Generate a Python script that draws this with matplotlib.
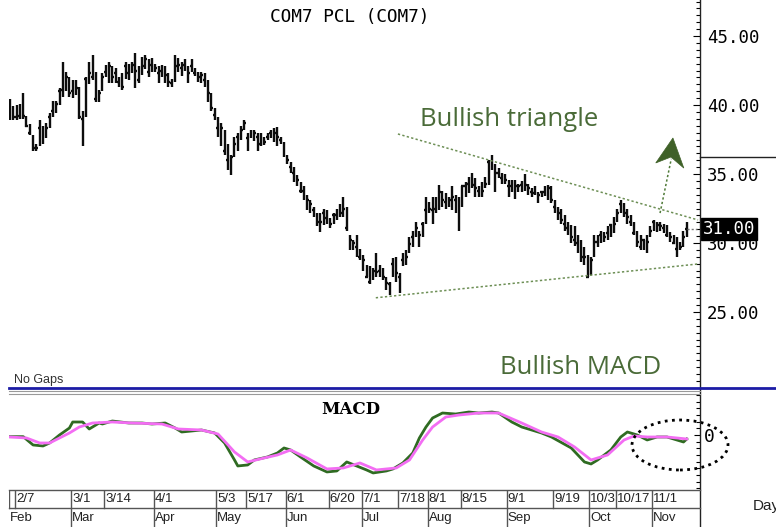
import matplotlib
matplotlib.use("Agg")
import matplotlib.pyplot as plt
from matplotlib.lines import Line2D
from matplotlib.patches import Ellipse, Polygon
from matplotlib.ticker import MultipleLocator, FixedLocator, FormatStrFormatter

W, H = 776, 527

# daily bars (high / low / close), one per trading day
highs = [40.4, 39.9, 40.0, 40.1, 40.9, 39.2, 38.6, 37.8, 37.2, 38.9, 38.5, 38.7, 39.4, 40.3, 40.3, 41.2, 43.1, 42.4,
         42.0, 41.8, 41.8, 41.3, 39.6, 42.0, 43.1, 43.6, 42.4, 41.1, 42.3, 42.9, 43.1,
         42.8, 42.7, 42.0, 42.3, 43.1, 43.0, 43.1, 43.8, 42.8, 43.5, 43.6, 43.3, 43.4, 43.0, 42.8, 42.9, 42.8,
         42.3, 41.9, 43.6, 43.4, 43.1, 43.3, 42.8, 43.3, 42.7, 42.4, 42.4, 42.3, 41.8, 40.9, 39.8, 39.1, 38.7,
         38.2, 37.2, 36.4, 37.7, 38.0, 38.5, 38.9, 38.0, 38.2, 38.2, 38.0, 38.0, 37.7, 38.0, 38.2, 38.3, 38.4,
         37.7, 37.3, 36.4, 35.9, 35.5, 34.9, 34.4, 34.1, 33.5, 33.1, 32.6, 32.2, 32.2, 32.5, 32.4, 31.8, 32.2, 32.5,
         32.8, 33.3, 32.6, 30.6, 30.2, 30.6, 29.6, 29.1, 28.4, 28.3, 28.2, 29.3, 28.4, 28.2, 27.5, 27.2, 28.9,
         29.0, 27.8, 29.3, 29.5, 30.4, 30.9, 31.5, 30.9, 31.5, 33.3, 33.0, 33.3, 33.3, 34.2, 33.8, 33.6, 33.3, 34.1,
         33.5, 33.3, 34.1, 34.4, 34.8, 35.1, 34.7, 34.1, 34.4, 34.8, 36.0, 36.4, 35.7, 35.4, 35.1, 35.0, 34.6,
         34.6, 34.6, 34.3, 34.5, 35.0, 34.3, 34.0, 34.1, 33.7, 33.8, 34.1, 34.2, 34.1, 33.1, 32.6, 32.5, 32.0,
         31.5, 31.3, 31.2, 30.6, 30.2, 29.7, 29.1, 29.0, 30.6, 30.6, 30.9, 30.8, 31.2, 31.4, 31.9, 32.5, 33.1,
         32.9, 32.5, 32.0, 31.5, 30.9, 30.6, 30.2, 30.6, 31.2, 31.7, 31.5, 31.5, 31.4, 31.3, 30.8, 30.6, 30.4,
         30.1, 30.9, 31.5]
lows = [38.9, 38.9, 38.9, 39.0, 39.0, 38.4, 37.8, 36.7, 36.7, 37.0, 37.2, 37.6, 38.3, 39.1, 39.4, 40.0, 40.6, 41.0,
        40.6, 40.5, 40.7, 39.0, 37.0, 39.1, 41.5, 41.8, 40.2, 40.2, 41.0, 42.0, 41.6,
        41.6, 41.6, 41.3, 41.1, 41.9, 41.8, 42.3, 41.2, 41.6, 42.2, 42.6, 42.0, 42.4, 42.4, 41.6, 42.0, 41.6,
        41.3, 41.3, 41.7, 42.4, 42.1, 42.5, 41.6, 42.4, 42.1, 41.7, 41.6, 41.3, 40.2, 39.6, 38.9, 37.7, 37.0,
        36.4, 35.3, 34.9, 36.2, 36.7, 37.5, 38.2, 36.7, 37.6, 37.4, 36.7, 37.0, 37.1, 37.5, 37.6, 37.3, 37.0,
        37.2, 36.2, 35.7, 35.1, 34.4, 34.1, 33.6, 33.1, 32.4, 32.2, 31.9, 31.2, 30.8, 31.3, 31.4, 31.1, 31.4, 31.7,
        31.9, 31.9, 30.9, 29.5, 29.5, 29.0, 28.8, 28.0, 27.5, 27.0, 27.3, 27.5, 27.5, 27.3, 26.6, 26.2, 27.5,
        27.2, 26.4, 28.3, 28.4, 29.3, 29.7, 30.4, 29.7, 30.4, 31.4, 32.2, 31.4, 32.2, 32.4, 32.6, 32.5, 32.6, 32.4,
        32.2, 30.9, 32.6, 33.3, 33.6, 34.0, 33.3, 33.3, 33.3, 34.0, 34.2, 35.3, 33.7, 34.7, 34.3, 34.3, 33.3,
        33.7, 33.2, 33.7, 33.7, 33.8, 33.5, 33.3, 33.5, 32.9, 33.3, 33.4, 33.1, 32.9, 32.2, 31.7, 31.4, 30.9,
        30.6, 30.0, 29.8, 29.3, 28.6, 28.4, 27.5, 27.7, 29.0, 29.7, 30.0, 30.1, 30.2, 30.4, 30.7, 31.5, 32.2,
        31.9, 31.4, 31.2, 30.6, 29.7, 29.5, 29.5, 29.3, 30.4, 30.9, 30.8, 30.9, 30.7, 30.4, 30.1, 29.9, 29.0,
        29.5, 29.7, 30.4]
closes = [39.1, 39.1, 39.1, 39.2, 39.2, 38.5, 38.0, 36.9, 36.9, 38.3, 37.5, 38.3, 39.1, 39.6, 40.1, 41.0, 41.1, 42.0,
          40.9, 41.0, 41.2, 39.1, 39.0, 41.9, 42.3, 42.0, 40.4, 40.9, 42.0, 42.4, 42.8,
          42.0, 42.3, 41.7, 41.3, 42.8, 42.3, 42.9, 42.5, 41.8, 42.8, 43.3, 42.4, 42.9, 42.7, 42.3, 42.5, 42.2,
          41.7, 41.6, 42.8, 42.9, 42.7, 42.9, 42.3, 42.8, 42.3, 42.0, 42.2, 41.8, 40.9, 39.8, 39.3, 38.3, 38.3,
          36.7, 36.0, 36.2, 37.2, 37.7, 38.2, 38.7, 37.6, 38.0, 38.0, 37.7, 37.2, 37.3, 37.7, 38.0, 38.0, 37.7,
          37.5, 36.9, 36.0, 35.5, 35.1, 34.6, 33.8, 33.8, 33.1, 32.8, 32.4, 31.5, 31.5, 32.2, 31.8, 31.4, 32.0, 32.0,
          32.2, 32.5, 31.1, 30.2, 30.0, 29.7, 29.0, 28.8, 27.5, 27.2, 28.0, 27.9, 28.0, 27.5, 27.1, 27.0, 28.5,
          27.8, 27.5, 28.8, 29.0, 29.9, 30.4, 31.1, 30.6, 31.4, 32.4, 32.5, 32.4, 32.5, 33.7, 33.1, 33.0, 33.1, 33.3,
          33.1, 33.0, 34.1, 34.1, 34.3, 34.2, 34.0, 33.8, 33.8, 34.3, 35.9, 35.8, 35.1, 35.1, 34.7, 34.6, 34.1,
          34.1, 34.1, 34.1, 34.2, 34.2, 34.0, 33.7, 33.6, 33.5, 33.7, 33.7, 34.0, 33.1, 32.6, 32.2, 31.7, 31.4,
          31.1, 30.4, 30.2, 30.0, 29.0, 29.0, 27.5, 28.8, 30.1, 30.1, 30.6, 30.4, 30.7, 31.3, 31.4, 32.2, 32.8,
          32.2, 31.9, 31.5, 30.7, 30.1, 29.7, 30.2, 30.1, 30.9, 31.5, 31.3, 31.2, 31.1, 30.6, 30.4, 30.0, 29.6,
          29.7, 30.4, 31.0]

# MACD (green) and signal (magenta), read at points along the lines
macd_x = [0, 4, 7, 10, 12, 15, 18, 19, 22, 24, 27, 28, 31, 36, 40, 43, 47, 50, 52, 58, 62, 65, 68, 69, 72,
          74, 78, 81, 83, 85, 88, 92, 96, 99, 102, 105, 108, 110, 114, 116, 119, 122, 124, 126, 128,
          131, 135, 139, 142, 146, 148, 152, 155, 161, 164, 170, 174, 176, 178, 182, 185, 187, 190, 193, 196,
          199, 202, 204, 205]
macd_y = [-0.05, -0.05, -0.30, -0.33, -0.24, 0.00, 0.21, 0.39, 0.39, 0.18, 0.36, 0.33, 0.42, 0.36, 0.36,
          0.33, 0.36, 0.21, 0.09, 0.15, 0.06, -0.24, -0.75, -0.93, -0.90, -0.75, -0.66, -0.54, -0.39, -0.45,
          -0.66, -0.93, -1.11, -1.08, -0.81, -0.93, -1.05, -1.14, -1.08, -1.02, -0.84, -0.54, -0.09, 0.24, 0.51,
          0.66, 0.63, 0.69, 0.66, 0.69, 0.66, 0.39, 0.24, 0.06, -0.06, -0.39, -0.81, -0.87, -0.75, -0.45,
          -0.06, 0.09, 0.00, -0.15, -0.06, -0.06, -0.15, -0.21, -0.12]
signal_x = [0, 5, 9, 12, 18, 21, 25, 31, 37, 46, 51, 58, 63, 68, 72, 77, 81, 85, 90, 96, 101, 106, 111, 117,
            121, 125, 128, 132, 136, 142, 148, 155, 161, 166, 171, 176, 181, 186, 189, 193, 199, 205]
signal_y = [-0.06, -0.09, -0.24, -0.24, 0.06, 0.24, 0.36, 0.39, 0.36, 0.33, 0.18, 0.15, 0.03, -0.51, -0.81,
            -0.69, -0.60, -0.45, -0.69, -1.02, -0.99, -0.84, -1.05, -0.99, -0.75, -0.15, 0.24, 0.54, 0.60, 0.66,
            0.66, 0.36, 0.09, -0.06, -0.36, -0.75, -0.60, -0.15, -0.03, -0.06, -0.06, -0.12]

date_labels = ["2/7", "3/1", "3/14", "4/1", "5/3", "5/17", "6/1", "6/20", "7/1", "7/18", "8/1", "8/15",
               "9/1", "9/19", "10/3", "10/17", "11/1"]
date_bars = [2, 19, 29, 44, 63, 72, 84, 97, 107, 118, 127, 137, 151, 165, 176, 184, 195]
month_labels = ["Feb", "Mar", "Apr", "May", "Jun", "Jul", "Aug", "Sep", "Oct", "Nov"]
month_bars = [0, 19, 44, 63, 84, 107, 127, 151, 176, 195]

price_ticks = [25, 30, 35, 40, 45]
last_price = 31.00

# hand drawn annotations (bar index, price)
upper_x, upper_y = [117.5, 208.4], [37.90, 31.67]
lower_x, lower_y = [110.8, 208.4], [26.03, 28.48]
arrow_x, arrow_y = [196.9, 200.3], [32.17, 36.1]
head_x = [200.8, 204.1, 200.2, 195.6]
head_y = [37.61, 35.43, 36.23, 35.80]


def fx(px):
    return px / W


def fy(py):
    return 1 - py / H


plt.rcParams["font.family"] = "DejaVu Sans Mono"
narrow = ["Liberation Sans Narrow", "Liberation Sans"]
green_txt = "#4a6b38"
xlim = (-0.3, 209.0)

fig = plt.figure(figsize=(W / 100, H / 100), dpi=100)

# price panel
ax = fig.add_axes([fx(9), fy(387), 691 / W, 387 / H])
ax.set_xlim(*xlim)
ax.set_ylim(19.565, 47.609)
for s in ax.spines.values():
    s.set_visible(False)
ax.set_xticks([])
ax.yaxis.tick_right()
ax.yaxis.set_major_locator(FixedLocator(price_ticks))
ax.yaxis.set_minor_locator(MultipleLocator(0.5))
ax.yaxis.set_major_formatter(FormatStrFormatter("%.2f"))
ax.tick_params(axis="y", which="major", direction="in", length=5, width=0.8, pad=5, labelsize=12.5)
ax.tick_params(axis="y", which="minor", direction="in", length=3, width=0.8)

idx = list(range(len(closes)))
ax.vlines(idx, lows, highs, color="#0d0d0d", lw=1.7)
ax.hlines(closes, [i - 0.45 for i in idx], [i + 0.45 for i in idx], color="#0d0d0d", lw=1.7)

ax.plot(upper_x, upper_y, color="#6d8f55", lw=1.1, ls=(0, (1.5, 1.5)))
ax.plot(lower_x, lower_y, color="#6d8f55", lw=1.1, ls=(0, (1.5, 1.5)))
ax.plot(arrow_x, arrow_y, color="#4f7a38", lw=1.1, ls=(0, (1.5, 1.5)))
ax.add_patch(Polygon(list(zip(head_x, head_y)), closed=True, fc="#3f6128", ec="#3f6128", lw=0.5))
ax.plot([205.2, 208.0], [last_price, last_price], color="#777777", lw=1, ls=(0, (1.5, 1.5)))

ax.text(1.004, last_price, f"{last_price:.2f}", transform=ax.get_yaxis_transform(), color="white",
        fontsize=12.5, va="center", ha="left", zorder=10, clip_on=False,
        bbox=dict(boxstyle="square,pad=0.12", fc="black", ec="black"))

# MACD panel
axm = fig.add_axes([fx(9), fy(490), 691 / W, 98 / H])
axm.set_xlim(*xlim)
axm.set_ylim(-1.652, 1.291)
for s in axm.spines.values():
    s.set_visible(False)
axm.set_xticks([])
axm.yaxis.tick_right()
axm.yaxis.set_major_locator(FixedLocator([0]))
axm.yaxis.set_minor_locator(MultipleLocator(0.2))
axm.yaxis.set_major_formatter(FormatStrFormatter("%d"))
axm.tick_params(axis="y", which="major", direction="in", length=4, width=0.8, pad=3, labelsize=13)
axm.tick_params(axis="y", which="minor", direction="in", length=3, width=0.8)
axm.plot(macd_x, macd_y, color="#2f6b22", lw=2)
axm.plot(signal_x, signal_y, color="#f36df3", lw=2)
fig.text(fx(351), fy(410), "MACD", ha="center", va="center", fontsize=12, fontweight="bold",
         family="DejaVu Serif")

# date strip
axd = fig.add_axes([fx(9), 0, 691 / W, 37 / H])
axd.set_xlim(*xlim)
axd.set_ylim(0, 37)
axd.axis("off")
axd.plot([-0.3, -0.3], [19, 37], color="#555555", lw=1)
for b, lab in zip(date_bars, date_labels):
    top = 0 if b in month_bars else 19
    axd.plot([b - 0.5, b - 0.5], [top, 37], color="#555555", lw=1)
    axd.text(b - 0.2, 28, lab, ha="left", va="center", fontsize=9.5, family=narrow, color="#222222")
for b, lab in zip(month_bars, month_labels):
    axd.text(max(b - 0.2, 0.0), 9, lab, ha="left", va="center", fontsize=9.5, family=narrow, color="#222222")

# frame lines
lines = [
    ([fx(700), fx(700)], [0, 1], "#222222", 1.0),
    ([fx(700), 1], [fy(157), fy(157)], "#222222", 1.0),
    ([fx(9), 1], [fy(388), fy(388)], "#1c1ca6", 2.0),
    ([fx(9), fx(700)], [fy(391), fy(391)], "#999999", 0.8),
    ([fx(9), fx(700)], [fy(393.5), fy(393.5)], "#999999", 0.8),
    ([fx(9), fx(700)], [fy(490), fy(490)], "#555555", 1.0),
    ([fx(9), fx(700)], [fy(508), fy(508)], "#555555", 1.0),
]
for xs, ys, c, lw in lines:
    fig.add_artist(Line2D(xs, ys, color=c, lw=lw, transform=fig.transFigure))

fig.add_artist(Ellipse((fx(680), fy(445)), 96 / W, 50 / H, transform=fig.transFigure, fill=False,
                       ec="black", lw=2, ls=(0, (1, 1.6))))

fig.text(fx(350), fy(17), "COM7 PCL (COM7)", ha="center", va="center", fontsize=12.8)
fig.text(fx(420), fy(126), "Bullish triangle", ha="left", va="baseline", fontsize=18.5,
         family="Open Sans", color=green_txt)
fig.text(fx(500), fy(374), "Bullish MACD", ha="left", va="baseline", fontsize=18.5,
         family="Open Sans", color=green_txt)
fig.text(fx(14), fy(383), "No Gaps", ha="left", va="baseline", fontsize=9, family=narrow, color="#333333")
fig.text(fx(753), fy(506), "Day", ha="left", va="center", fontsize=11, family="Liberation Sans", color="#222222")

fig.savefig("out.png", dpi=100)
